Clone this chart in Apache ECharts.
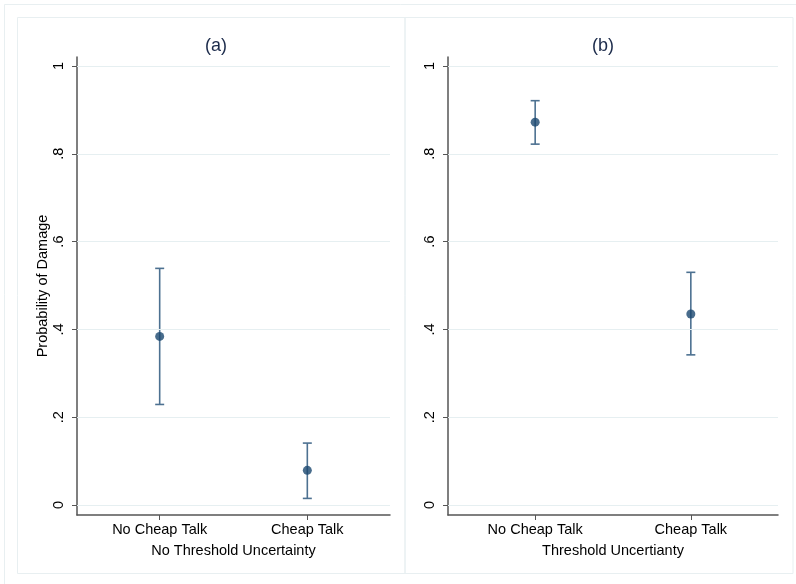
<!DOCTYPE html>
<html>
<head>
<meta charset="utf-8">
<script src="https://cdn.jsdelivr.net/npm/echarts@6/dist/echarts.min.js"></script>
<style>html,body{margin:0;padding:0;background:#fff}#c{width:796px;height:584px}</style>
</head>
<body>
<div id="c"></div>
<script>
const categories = ['No Cheap Talk', 'Cheap Talk'];
const xPositions = [1, 2];
const panelTitles = ['(a)', '(b)'];
const xAxisNames = ['No Threshold Uncertainty', 'Threshold Uncertianty'];
const yTicks = [0, 0.2, 0.4, 0.6, 0.8, 1];
const yTickLabels = ['0', '.2', '.4', '.6', '.8', '1'];
const meanA = [0.384, 0.079];
const lowA = [0.229, 0.015];
const highA = [0.539, 0.141];
const meanB = [0.872, 0.435];
const lowB = [0.822, 0.342];
const highB = [0.921, 0.530];

const FONT = 'Liberation Sans';
const chart = echarts.init(document.getElementById('c'), null, {renderer: 'canvas'});

function xAxis(i) {
  return {
    type: 'value', gridIndex: i, min: 0.44, max: 2.56,
    name: xAxisNames[i], nameLocation: 'middle', nameGap: 28,
    nameTextStyle: {color: '#000', fontFamily: FONT, fontSize: 14.5},
    axisLine: {show: true, onZero: false, lineStyle: {color: '#555', width: 1.5}},
    axisTick: {show: true, customValues: xPositions, length: 5, lineStyle: {color: '#555'}},
    axisLabel: {customValues: xPositions, margin: 7, color: '#000', fontFamily: FONT, fontSize: 14.5,
      formatter: v => categories[xPositions.indexOf(Math.round(v))] || ''},
    splitLine: {show: false}
  };
}
function yAxis(i) {
  return {
    type: 'value', gridIndex: i, min: -0.0228, max: 1.0205,
    name: i === 0 ? 'Probability of Damage' : '', nameLocation: 'middle', nameGap: 26,
    nameTextStyle: {color: '#000', fontFamily: FONT, fontSize: 14.5},
    axisLine: {show: true, lineStyle: {color: '#555', width: 1.5}},
    axisTick: {show: true, customValues: yTicks, length: 5, lineStyle: {color: '#555'}},
    axisLabel: {customValues: yTicks, rotate: 90, margin: 11, color: '#000', fontFamily: FONT, fontSize: 14.5,
      formatter: v => { const k = yTicks.findIndex(t => Math.abs(t - v) < 1e-6); return k >= 0 ? yTickLabels[k] : ''; }},
    splitLine: {show: false}
  };
}
function gridLines(i) {
  return {
    type: 'line', xAxisIndex: i, yAxisIndex: i, data: [], silent: true,
    markLine: {symbol: 'none', silent: true, label: {show: false},
      lineStyle: {color: '#e6eff1', width: 1, type: 'solid'},
      data: yTicks.map(t => ({yAxis: t}))}
  };
}
function errorBars(i, low, high) {
  return {
    type: 'custom', xAxisIndex: i, yAxisIndex: i, z: 3,
    data: xPositions.map((x, k) => [x, low[k], high[k]]),
    renderItem: (params, api) => {
      const x = api.value(0);
      const p1 = api.coord([x, api.value(1)]);
      const p2 = api.coord([x, api.value(2)]);
      const w = 4.5;
      const st = {stroke: '#4d7191', lineWidth: 1.6};
      return {type: 'group', children: [
        {type: 'line', shape: {x1: p1[0], y1: p1[1], x2: p2[0], y2: p2[1]}, style: st},
        {type: 'line', shape: {x1: p1[0] - w, y1: p1[1], x2: p1[0] + w, y2: p1[1]}, style: st},
        {type: 'line', shape: {x1: p2[0] - w, y1: p2[1], x2: p2[0] + w, y2: p2[1]}, style: st}
      ]};
    }
  };
}
function points(i, mean) {
  return {
    type: 'scatter', xAxisIndex: i, yAxisIndex: i, z: 4, symbol: 'circle', symbolSize: 9,
    itemStyle: {color: '#1a476f'},
    data: xPositions.map((x, k) => [x, mean[k]])
  };
}

const option = {
  backgroundColor: '#fff',
  animation: false,
  title: [
    {text: panelTitles[0], left: 211, top: 32, textAlign: 'center', textStyle: {color: '#1c2b4b', fontFamily: FONT, fontSize: 18, fontWeight: 'normal'}},
    {text: panelTitles[1], left: 598, top: 32, textAlign: 'center', textStyle: {color: '#1c2b4b', fontFamily: FONT, fontSize: 18, fontWeight: 'normal'}}
  ],
  graphic: [
    {type: 'rect', shape: {x: 4.5, y: 4.5, width: 800, height: 600}, style: {fill: 'none', stroke: '#e8eff1', lineWidth: 1}, silent: true},
    {type: 'rect', shape: {x: 17.5, y: 17.5, width: 387.5, height: 556}, style: {fill: 'none', stroke: '#e8eff1', lineWidth: 1}, silent: true},
    {type: 'rect', shape: {x: 405, y: 17.5, width: 388, height: 556}, style: {fill: 'none', stroke: '#e8eff1', lineWidth: 1}, silent: true}
  ],
  grid: [
    {left: 77, right: 406, top: 57, bottom: 69},
    {left: 448, right: 18, top: 57, bottom: 69}
  ],
  xAxis: [xAxis(0), xAxis(1)],
  yAxis: [yAxis(0), yAxis(1)],
  series: [
    gridLines(0), gridLines(1),
    errorBars(0, lowA, highA), errorBars(1, lowB, highB),
    points(0, meanA), points(1, meanB)
  ]
};
chart.setOption(option);
</script>
</body>
</html>
